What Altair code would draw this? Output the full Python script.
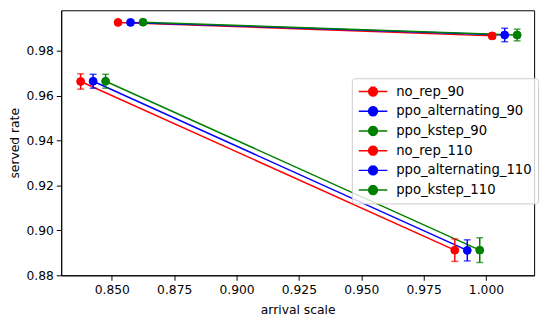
import altair as alt
import pandas as pd

series = ["no_rep_90", "ppo_alternating_90", "ppo_kstep_90",
          "no_rep_110", "ppo_alternating_110", "ppo_kstep_110"]
colors = ["#ff0000", "#0000ff", "#008000", "#ff0000", "#0000ff", "#008000"]

x_vals = {
    "no_rep_90": [0.8375, 0.9875],
    "ppo_alternating_90": [0.8425, 0.9925],
    "ppo_kstep_90": [0.8475, 0.9975],
    "no_rep_110": [0.8525, 1.0025],
    "ppo_alternating_110": [0.8575, 1.0075],
    "ppo_kstep_110": [0.8625, 1.0125],
}
y_vals = {
    "no_rep_90": [0.9663, 0.8912],
    "ppo_alternating_90": [0.9664, 0.8911],
    "ppo_kstep_90": [0.9664, 0.8912],
    "no_rep_110": [0.9926, 0.9866],
    "ppo_alternating_110": [0.9926, 0.9870],
    "ppo_kstep_110": [0.9927, 0.9870],
}
y_err = {
    "no_rep_90": [0.0034, 0.0050],
    "ppo_alternating_90": [0.0031, 0.0047],
    "ppo_kstep_90": [0.0031, 0.0055],
    "no_rep_110": [0.0004, 0.0012],
    "ppo_alternating_110": [0.0004, 0.0030],
    "ppo_kstep_110": [0.0003, 0.0026],
}

x_ticks = [0.850, 0.875, 0.900, 0.925, 0.950, 0.975, 1.000]
y_ticks = [0.88, 0.90, 0.92, 0.94, 0.96, 0.98]

rows = []
for i, s in enumerate(series):
    for x, y, e in zip(x_vals[s], y_vals[s], y_err[s]):
        rows.append({"series": s, "order": i, "x": x, "y": y, "lo": y - e, "hi": y + e})
df = pd.DataFrame(rows)

# symbol: line with error bar and circle; unit = 6.5px
sym = ("M-2.23,0H2.23M0,-0.66V0.66M-0.38,-0.66H0.38M-0.38,0.66H0.38"
       "M0.69,0A0.69,0.69 0 1 1 -0.69,0A0.69,0.69 0 1 1 0.69,0Z")

legend = alt.Legend(
    title=None, orient="none", legendX=295, legendY=69,
    symbolType=sym, symbolSize=169, symbolStrokeWidth=1.5, symbolOffset=8,
    labelFontSize=13.4, labelFont="DejaVu Sans", labelColor="#000",
    labelOffset=16, rowPadding=5, padding=6,
    fillColor="rgba(255,255,255,0.8)", strokeColor="#cccccc", cornerRadius=3,
)
scale = alt.Scale(domain=series, range=colors)
stroke = alt.Stroke("series:N", scale=scale, legend=legend, sort=series)
fill = alt.Fill("series:N", scale=scale, legend=legend, sort=series)

xs = alt.X("x:Q", scale=alt.Scale(domain=[0.8297, 1.0193], nice=False, zero=False),
           axis=alt.Axis(values=x_ticks, format=".3f", title="arrival scale"))
ys = alt.Y("y:Q", scale=alt.Scale(domain=[0.8800, 0.9980], nice=False, zero=False),
           axis=alt.Axis(values=y_ticks, format=".2f", title="served rate"))

base = alt.Chart(df)

lines = base.mark_line(strokeWidth=1.5).encode(x=xs, y=ys, stroke=stroke, detail="series:N", order="x:Q")
bars = base.mark_rule(strokeWidth=1.5).encode(x=xs, y=alt.Y("lo:Q"), y2="hi:Q", stroke=stroke)
cap_lo = base.mark_tick(orient="horizontal", size=7, thickness=1.5).encode(x=xs, y=alt.Y("lo:Q"), fill=fill)
cap_hi = base.mark_tick(orient="horizontal", size=7, thickness=1.5).encode(x=xs, y=alt.Y("hi:Q"), fill=fill)
points = base.mark_point(shape="circle", filled=True, size=64, opacity=1, strokeWidth=1).encode(
    x=xs, y=ys, fill=fill, stroke=stroke)

chart = alt.layer(lines, bars, cap_lo, cap_hi, points).properties(
    width=480, height=269,
    autosize=alt.AutoSizeParams(type="none"),
    padding={"left": 54, "top": 0, "right": 8, "bottom": 40},
).configure_view(stroke="#000", strokeWidth=1).configure_axis(
    labelFont="DejaVu Sans", titleFont="DejaVu Sans", labelFontSize=12.5, titleFontSize=12.5,
    titleFontWeight="normal", labelColor="#000", titleColor="#000",
    domainColor="#000", tickColor="#000", tickSize=5, grid=False, labelPadding=3,
).configure_axisX(titlePadding=8).configure_axisY(titlePadding=5)

chart.save("out.html", embed_options={"renderer": "svg", "actions": False})
